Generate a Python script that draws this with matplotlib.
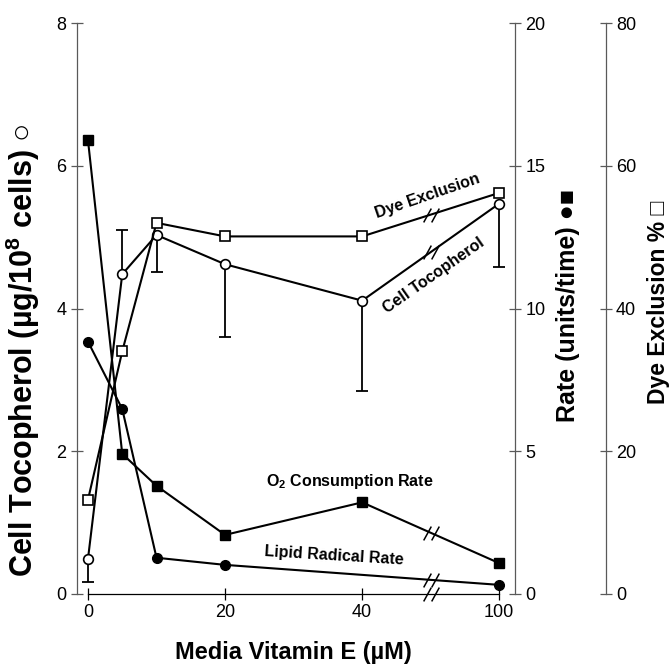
import matplotlib
matplotlib.use("Agg")
import matplotlib.pyplot as plt
import numpy as np

plt.rcParams['font.family'] = ['Liberation Sans', 'DejaVu Sans']
plt.rcParams['mathtext.fontset'] = 'custom'
plt.rcParams['mathtext.rm'] = 'Liberation Sans'
plt.rcParams['mathtext.bf'] = 'Liberation Sans:bold'
plt.rcParams['mathtext.default'] = 'bf'

# media vitamin E (uM)
vit_e = [0, 5, 10, 20, 40, 100]
# cell tocopherol (ug/10^8 cells), one-sided error bars
tocopherol = [0.49, 4.48, 5.03, 4.62, 4.11, 5.47]
toco_err_lo = [0.32, 0.0, 0.52, 1.02, 1.26, 0.89]
toco_err_hi = [0.0, 0.62, 0.0, 0.0, 0.0, 0.0]
# dye exclusion (%)
dye_excl = [13.2, 34.0, 52.0, 50.1, 50.1, 56.2]
# rates (units/time)
o2_rate = [15.9, 4.91, 3.79, 2.07, 3.21, 1.08]
lipid_vit_e = [0, 5, 10, 20, 100]
lipid_rate = [8.84, 6.48, 1.27, 1.02, 0.32]

xtick_vals = [0, 20, 40, 100]


def xpos(c):
    # axis is broken between 40 and 100: compress that stretch
    c = np.asarray(c, dtype=float)
    return np.where(c <= 40, c, 40 + (c - 40) / 3.0)


BREAK = 50.0

fig = plt.figure(figsize=(6.72, 6.66), dpi=100)
ax = fig.add_axes([77 / 672, 1 - 594 / 666, 438 / 672, 571 / 666])
rate_ax = ax.twinx()
dye_ax = ax.twinx()

lw = 1.5
spine_col = '0.35'

# --- cell tocopherol (open circles, left axis), error bars drawn one side only
toco = np.array(tocopherol)
bar_end = toco - np.array(toco_err_lo) + np.array(toco_err_hi)
ax.vlines(xpos(vit_e), toco, bar_end, color='black', lw=1.3, zorder=2)
ax.plot(xpos(vit_e), bar_end, ls='none', marker='_', ms=8, mew=1.3,
        color='black', zorder=2)
ax.plot(xpos(vit_e), tocopherol, '-o', color='black', lw=lw, ms=7,
        mfc='white', mec='black', mew=1.2, zorder=3)

# --- rates (filled markers, middle axis)
rate_ax.plot(xpos(vit_e), o2_rate, '-s', color='black', lw=lw, ms=7, zorder=3)
rate_ax.plot(xpos(lipid_vit_e), lipid_rate, '-o', color='black', lw=lw, ms=7,
             zorder=3)

# --- dye exclusion (open squares, far axis)
dye_ax.plot(xpos(vit_e), dye_excl, '-s', color='black', lw=lw, ms=6.5,
            mfc='white', mec='black', mew=1.2, zorder=3)

# break marks "//" on each line and on the x axis
slash = [(-0.55, -1), (0.55, 1)]


def add_break(a, xs, ys):
    p = xpos(xs)
    y_at = np.interp(BREAK, p, ys)
    a.plot([BREAK - 0.6, BREAK + 0.6], [y_at, y_at], ls='none',
           marker=slash, ms=10, mew=1.1, color='black', clip_on=False, zorder=4)


add_break(ax, vit_e, tocopherol)
add_break(dye_ax, vit_e, dye_excl)
add_break(rate_ax, vit_e, o2_rate)
add_break(rate_ax, lipid_vit_e, lipid_rate)
add_break(ax, [0, 100], [0, 0])

# limits and spines
ax.set_xlim(-1.6, 62.3)
ax.set_ylim(0, 8)
rate_ax.set_ylim(0, 20)
dye_ax.set_ylim(0, 80)

for a in (ax, rate_ax, dye_ax):
    for s in a.spines.values():
        s.set_visible(False)
        s.set_color(spine_col)
        s.set_linewidth(0.9)

ax.spines['left'].set_visible(True)
ax.spines['left'].set_bounds(0, 8)
ax.spines['bottom'].set_visible(True)
ax.spines['bottom'].set_bounds(0, 60)
ax.spines['bottom'].set_color('black')
rate_ax.spines['right'].set_visible(True)
dye_ax.spines['right'].set_visible(True)
dye_ax.spines['right'].set_position(('axes', 1.207))

ax.set_xticks(xpos(xtick_vals))
ax.set_xticklabels([str(v) for v in xtick_vals])
ax.set_yticks([0, 2, 4, 6, 8])
rate_ax.set_yticks([0, 5, 10, 15, 20])
dye_ax.set_yticks([0, 20, 40, 60, 80])

ax.tick_params(axis='x', direction='inout', length=8, width=0.9, labelsize=13,
               pad=3)
ax.tick_params(axis='y', direction='inout', length=9, width=0.9, labelsize=13,
               pad=3, color=spine_col)
for a in (rate_ax, dye_ax):
    a.tick_params(axis='y', direction='inout', length=9, width=0.9,
                  labelsize=13, pad=3, color=spine_col)

# axis titles
ax.set_ylabel('Cell Tocopherol (\u00b5g/10$^{8}$ cells) \u25cb', fontsize=22,
              fontweight='bold')
ax.yaxis.set_label_coords(-0.08, 0.427)
rate_ax.set_ylabel('Rate (units/time) \u25cf\u25a0', fontsize=18,
                   fontweight='bold')
rate_ax.yaxis.set_label_coords(1.094, 0.506)
dye_ax.set_ylabel('Dye Exclusion % \u25a1', fontsize=16.5, fontweight='bold')
dye_ax.yaxis.set_label_coords(1.302, 0.51)
fig.text(293 / 672, 1 - 652 / 666, 'Media Vitamin E (\u00b5M)', fontsize=17,
         fontweight='bold', ha='center', va='center')

# line annotations
ax.text(49.5, 5.57, 'Dye Exclusion', rotation=19, rotation_mode='anchor',
        ha='center', va='center', fontsize=11.5, fontweight='bold')
ax.text(50.4, 4.46, 'Cell Tocopherol', rotation=35, rotation_mode='anchor',
        ha='center', va='center', fontsize=11.5, fontweight='bold')
ax.text(38.2, 1.58, 'O$_{2}$ Consumption Rate', ha='center', va='center',
        fontsize=11.5, fontweight='bold')
ax.text(35.9, 0.53, 'Lipid Radical Rate', rotation=-3.5, rotation_mode='anchor',
        ha='center', va='center', fontsize=11.5, fontweight='bold')

fig.savefig('out.png', dpi=100)
